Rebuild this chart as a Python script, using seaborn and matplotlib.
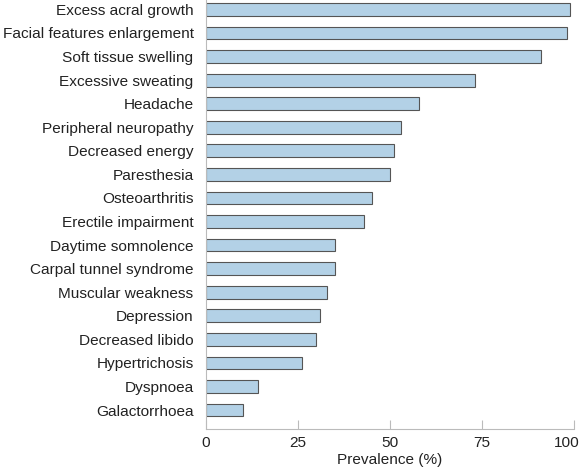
import pandas as pd
import seaborn as sns
import matplotlib.pyplot as plt
from matplotlib.transforms import ScaledTranslation

# Symptom prevalence (%)
symptoms = [
    "Excess acral growth", "Facial features enlargement", "Soft tissue swelling",
    "Excessive sweating", "Headache", "Peripheral neuropathy", "Decreased energy",
    "Paresthesia", "Osteoarthritis", "Erectile impairment", "Daytime somnolence",
    "Carpal tunnel syndrome", "Muscular weakness", "Depression", "Decreased libido",
    "Hypertrichosis", "Dyspnoea", "Galactorrhoea",
]
prevalence = [99, 98, 91, 73, 58, 53, 51, 50, 45, 43, 35, 35, 33, 31, 30, 26, 14, 10]
x_ticks = [0, 25, 50, 75, 100]

df = pd.DataFrame({"symptom": symptoms, "prevalence": prevalence})

sns.set_style("ticks")
plt.rcParams["font.family"] = ["Liberation Sans", "DejaVu Sans"]

fig = plt.figure(figsize=(5.8, 4.71), dpi=100)
ax = fig.add_axes([0.3552, 0.0892, 0.6345, 0.9108])

sns.barplot(
    data=df, x="prevalence", y="symptom", orient="h",
    color="#b3d1e6", saturation=1, edgecolor="#555555", linewidth=0.8,
    width=0.54, ax=ax,
)

ax.set_xlim(0, 100)
ax.set_ylim(17.8, -0.4)
ax.set_xticks(x_ticks)
ax.set_xticklabels([str(t) for t in x_ticks])
ax.set_xlabel("Prevalence (%)", fontsize=11.1, color="#222222", labelpad=2)
ax.set_ylabel("")

for side in ["top", "right"]:
    ax.spines[side].set_visible(False)
ax.spines["left"].set_color("#bbbbbb")
ax.spines["bottom"].set_color("#bbbbbb")
ax.tick_params(axis="x", direction="in", length=6.5, color="#bbbbbb",
               labelsize=11.1, labelcolor="#222222", pad=5)
ax.tick_params(axis="y", length=0, labelsize=11.1, labelcolor="#222222", pad=9)

# keep the "100" label inside the figure, as in the reference
last = ax.get_xticklabels()[-1]
last.set_horizontalalignment("right")
last.set_transform(last.get_transform() + ScaledTranslation(4 / 72, 0, fig.dpi_scale_trans))

fig.savefig("out.png", dpi=100, transparent=True)
